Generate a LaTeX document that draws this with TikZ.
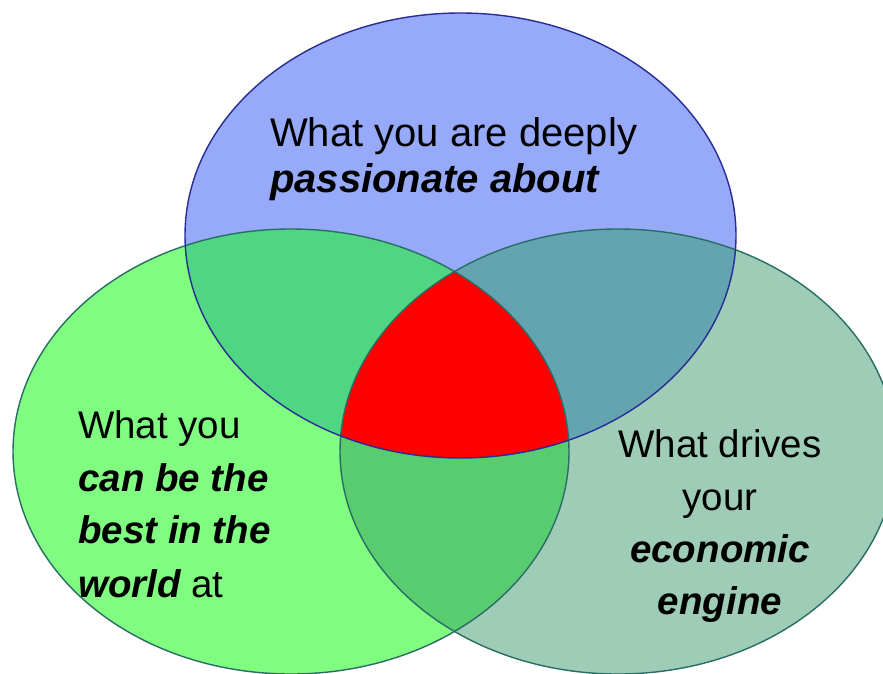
\documentclass[tikz,border=0pt]{standalone}
\usepackage{fontspec}
\setmainfont{Liberation Sans}
\definecolor{cTop}{RGB}{150,170,249}
\definecolor{cLeft}{RGB}{128,252,128}
\definecolor{cRight}{RGB}{158,204,182}
\definecolor{cTL}{RGB}{80,214,130}
\definecolor{cTR}{RGB}{100,164,176}
\definecolor{cLR}{RGB}{90,204,112}
\definecolor{cCore}{RGB}{255,0,0}
\definecolor{lineTop}{RGB}{40,44,150}
\definecolor{lineSide}{RGB}{40,110,100}
\begin{document}
\begin{tikzpicture}[x=1pt,y=-1pt,
  rT/.style={x radius=275.5, y radius=222.5},
  rS/.style={x radius=278, y radius=222.5},
  rim/.style={line width=1.4pt},
  toptext/.style={anchor=base west, inner sep=0pt, font=\fontsize{40}{48}\selectfont},
  sidetext/.style={anchor=base west, inner sep=0pt, font=\fontsize{38.5}{46}\selectfont},
  righttext/.style={anchor=base, inner sep=0pt, font=\fontsize{38.5}{46}\selectfont},
  hi/.style={font=\fontsize{38.5}{46}\selectfont\bfseries\itshape}]
\useasboundingbox (0,0) rectangle (883,673);
\fill[white] (0,0) rectangle (883,673);
\clip (0,0) rectangle (883,673);

% centres of the three ellipses
\coordinate (cT) at (460.5,235.5);
\coordinate (cL) at (291,451.5);
\coordinate (cR) at (618,451.5);

% single regions
\fill[cTop] (cT) ellipse[rT];
\fill[cLeft] (cL) ellipse[rS];
\fill[cRight] (cR) ellipse[rS];

% left and right overlap
\begin{scope}
  \clip (cL) ellipse[rS];
  \fill[cLR] (cR) ellipse[rS];
\end{scope}

% overlaps with the top ellipse, and the common core
\begin{scope}
  \clip (cT) ellipse[rT];
  \fill[cTL] (cL) ellipse[rS];
  \fill[cTR] (cR) ellipse[rS];
  \clip (cL) ellipse[rS];
  \fill[cCore] (cR) ellipse[rS];
\end{scope}

% outlines
\draw[rim, lineSide] (cL) ellipse[rS];
\draw[rim, lineSide] (cR) ellipse[rS];
\draw[rim, lineTop] (cT) ellipse[rT];

% labels
\node[toptext] (t1) at (270,146) {What you are deeply};
\node[toptext] (t2) at (270,192) {\bfseries\itshape passionate about};

\node[sidetext] (l1) at (78,438) {What you};
\node[sidetext] (l2) at (78,491) {\bfseries\itshape can be the};
\node[sidetext] (l3) at (78,543) {\bfseries\itshape best in the};
\node[sidetext] (l4) at (78,597) {{\bfseries\itshape world} at};

\node[righttext] (r1) at (720,457) {What drives};
\node[righttext] (r2) at (720,510) {your};
\node[righttext] (r3) at (720,562) {\bfseries\itshape economic};
\node[righttext] (r4) at (720,614) {\bfseries\itshape engine};
\end{tikzpicture}
\end{document}
